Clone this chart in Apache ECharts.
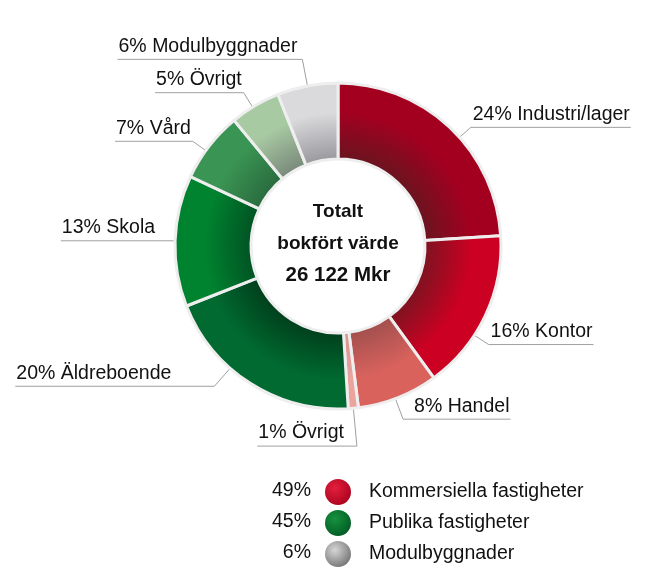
<!DOCTYPE html>
<html>
<head>
<meta charset="utf-8">
<script src="https://cdn.jsdelivr.net/npm/echarts@6/dist/echarts.min.js"></script>
<style>
html,body{margin:0;padding:0;background:#fff;}
#chart{width:667px;height:580px;}
</style>
</head>
<body>
<div id="chart"></div>
<script>
// ---- data ----
const categories = ['Industri/lager', 'Kontor', 'Handel', 'Övrigt', 'Äldreboende', 'Skola', 'Vård', 'Övrigt', 'Modulbyggnader'];
const shares = [24, 16, 8, 1, 20, 13, 7, 5, 6];
const outerColors = ['#a3001f', '#cc0023', '#d9625d', '#eba39e', '#006a30', '#00832f', '#3a9453', '#a8caa3', '#dadadd'];
const innerColors = ['#6a1420', '#7e1320', '#a3504e', '#d49591', '#00401d', '#005424', '#2a6c3f', '#7a8a7b', '#9a9a9e'];

const groupNames = ['Kommersiella fastigheter', 'Publika fastigheter', 'Modulbyggnader'];
const groupShares = [49, 45, 6];
const groupLight = ['#e2203c', '#16923f', '#d6d6d6'];
const groupDark = ['#a8001c', '#005822', '#6e6e6e'];

const centerLines = ['Totalt', 'bokfört värde', '26 122 Mkr'];

// ---- layout constants ----
const CX = 338, CY = 246, R_OUT = 163, R_IN = 87;
const FONT = '"Liberation Sans", Arial, sans-serif';
// label anchor adjustments (degrees along ring, leader length, text gap from elbow)
const labelShift = [5, 8, 1, 0, 9, 0, -2, -1, 0];
const labelLen = [15, 17, 22, 38, 24, 3, 16, 17, 27];
const labelGap = [2, 2, 11, 13, 43, 17, 2, 2, 5];

const chart = echarts.init(document.getElementById('chart'), null, {renderer: 'canvas'});

const pieData = categories.map((c, i) => ({
  name: c,
  value: shares[i],
  itemStyle: {
    color: {
      type: 'radial', x: CX, y: CY, r: R_OUT, global: true,
      colorStops: [
        {offset: 0, color: innerColors[i]},
        {offset: R_IN / R_OUT, color: innerColors[i]},
        {offset: 0.82, color: outerColors[i]},
        {offset: 1, color: outerColors[i]}
      ]
    }
  }
}));

const groupData = groupNames.map((n, i) => ({
  name: n,
  value: groupShares[i],
  itemStyle: {
    color: {
      type: 'radial', x: 0.38, y: 0.35, r: 0.75,
      colorStops: [
        {offset: 0, color: groupLight[i]},
        {offset: 1, color: groupDark[i]}
      ]
    }
  }
}));

const centerY0 = 212, centerStep = 31.5;

const graphics = [];
centerLines.forEach((t, i) => {
  graphics.push({
    type: 'text', x: CX, y: centerY0 + i * centerStep,
    style: {
      text: t, x: 0, y: 0, align: 'center', verticalAlign: 'middle',
      font: 'bold ' + (i === 2 ? 20.5 : 19) + 'px ' + FONT, fill: '#111'
    }
  });
});
groupShares.forEach((s, i) => {
  graphics.push({
    type: 'text', x: 311, y: 491 + i * 31,
    style: {
      text: s + '%', x: 0, y: 0, align: 'right', verticalAlign: 'middle',
      font: '19.5px ' + FONT, fill: '#111'
    }
  });
});

const option = {
  backgroundColor: '#fff',
  animation: false,
  legend: {
    orient: 'vertical',
    left: 320, top: 474,
    itemWidth: 52, itemHeight: 26, itemGap: 5,
    icon: 'circle',
    selectedMode: false,
    data: groupNames,
    textStyle: {fontSize: 19.5, color: '#111', fontFamily: FONT}
  },
  graphic: graphics,
  series: [
    {
      type: 'pie',
      name: 'groups',
      silent: true,
      center: [CX, CY],
      radius: [0, 0],
      label: {show: false},
      labelLine: {show: false},
      data: groupData
    },
    {
      type: 'pie',
      name: 'fastigheter',
      center: [CX, CY],
      radius: [R_IN, R_OUT],
      startAngle: 90,
      clockwise: true,
      avoidLabelOverlap: false,
      silent: true,
      itemStyle: {borderColor: '#eeeeee', borderWidth: 3},
      label: {
        show: true,
        position: 'outside',
        formatter: p => shares[p.dataIndex] + '% ' + categories[p.dataIndex],
        fontSize: 19.5,
        fontFamily: FONT,
        color: '#111'
      },
      labelLine: {
        show: true, length: 16, length2: 10,
        lineStyle: {color: '#a0a0a0', width: 1}
      },
      labelLayout: function (params) {
        const pts = params.labelLinePoints;
        if (!pts) return {};
        const i = params.dataIndex;
        const q = pts[0];
        const dx0 = q[0] - CX, dy0 = q[1] - CY;
        const rr = Math.sqrt(dx0 * dx0 + dy0 * dy0);
        const ang = Math.atan2(dx0, -dy0) + labelShift[i] * Math.PI / 180;
        const ux = Math.sin(ang), uy = -Math.cos(ang);
        const p0 = [CX + rr * ux, CY + rr * uy];
        const p1 = [p0[0] + ux * labelLen[i], p0[1] + uy * labelLen[i]];
        const w = params.labelRect.width;
        const g = labelGap[i];
        const right = q[0] > CX + 20;
        const end = right ? p1[0] + g + w + 1 : p1[0] - g - w - 1;
        return {
          x: right ? p1[0] + g : p1[0] - g,
          y: p1[1] - 3,
          align: right ? 'left' : 'right',
          verticalAlign: 'bottom',
          labelLinePoints: [p0, p1, [end, p1[1]]]
        };
      },
      data: pieData
    }
  ]
};
chart.setOption(option);
</script>
</body>
</html>
